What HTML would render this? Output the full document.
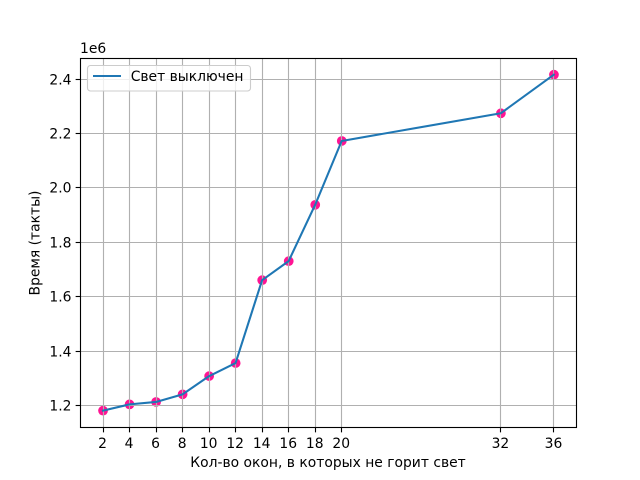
<!DOCTYPE html>
<html lang="ru">
<head>
<meta charset="utf-8">
<title>Время (такты)</title>
<style>
html,body{margin:0;padding:0;background:#fff;}
svg{display:block;}
text{font-family:"DejaVu Sans","Liberation Sans",sans-serif;font-size:13.889px;fill:#000;}
</style>
</head>
<body>
<svg id="chart" xmlns="http://www.w3.org/2000/svg" width="640" height="480" viewBox="0 0 640 480">
  <rect x="0" y="0" width="640" height="480" fill="#ffffff"/>
  <rect x="80" y="57.6" width="496" height="369.6" fill="#ffffff"/>
  <g id="points" transform="translate(0.5,0.25)"></g>
  <g id="grid"></g>
  <path id="series" transform="translate(0.4,0.25)" fill="none" stroke="#1f77b4" stroke-width="2.083" stroke-linejoin="round" stroke-linecap="square"></path>
  <g id="ticks"></g>
  <rect x="80.5" y="58.5" width="496" height="369" fill="none" stroke="#000" stroke-width="1.111"/>
  <text x="80" y="53">1e6</text>
  <text x="328" y="467" text-anchor="middle">Кол-во окон, в которых не горит свет</text>
  <text transform="translate(39.5,243) rotate(-90)" text-anchor="middle">Время (такты)</text>
  <g>
    <rect x="87.5" y="65.5" width="163" height="25.5" rx="3" ry="3" fill="#ffffff" fill-opacity="0.8" stroke="#cccccc" stroke-width="1.111"/>
    <line x1="93" y1="76" x2="121" y2="76" stroke="#1f77b4" stroke-width="2.083"/>
    <text x="130.7" y="81">Свет выключен</text>
  </g>
</svg>
<script>
const categories = [2, 4, 6, 8, 10, 12, 14, 16, 18, 20, 32, 36];
const seriesValues = [1.18, 1.203, 1.212, 1.24, 1.307, 1.355, 1.66, 1.73, 1.937, 2.172, 2.274, 2.416];
const xTickLabels = [2, 4, 6, 8, 10, 12, 14, 16, 18, 20, 32, 36];
const yTickLabels = ['1.2', '1.4', '1.6', '1.8', '2.0', '2.2', '2.4'];

const NS = 'http://www.w3.org/2000/svg';
const plot = {left: 80, right: 576, top: 57.6, bottom: 427.2};
const xMin = Math.min(...categories), xMax = Math.max(...categories);
const yMin = Math.min(...seriesValues), yMax = Math.max(...seriesValues);
const xPad = (xMax - xMin) * 0.05, yPad = (yMax - yMin) * 0.05;

function xScale(v) {
  return plot.left + (v - (xMin - xPad)) / ((xMax + xPad) - (xMin - xPad)) * (plot.right - plot.left);
}
function yScale(v) {
  return plot.bottom - (v - (yMin - yPad)) / ((yMax + yPad) - (yMin - yPad)) * (plot.bottom - plot.top);
}
function snap(p) {
  return Math.round(p) + 0.5;
}
function make(tag, attrs, parent) {
  const el = document.createElementNS(NS, tag);
  for (const k in attrs) el.setAttribute(k, attrs[k]);
  parent.appendChild(el);
  return el;
}

const gridG = document.getElementById('grid');
const ticksG = document.getElementById('ticks');
const pointsG = document.getElementById('points');
const frameTop = 58.5, frameBottom = 427.5, frameLeft = 80.5, frameRight = 576.5;

xTickLabels.forEach(function (t) {
  const x = snap(xScale(t));
  const g = make('line', {x1: x, x2: x, y1: frameTop, y2: frameBottom, stroke: '#b0b0b0', 'stroke-width': 1.111}, gridG);
  
  
  const m = make('line', {x1: x, x2: x, y1: frameBottom, y2: frameBottom + 4.86, stroke: '#000', 'stroke-width': 1.111}, ticksG);
  
  
  const l = make('text', {x: xScale(t), y: 448, 'text-anchor': 'middle'}, ticksG);
  l.textContent = t;
  
  
});

yTickLabels.forEach(function (t) {
  const y = snap(yScale(parseFloat(t)));
  const g = make('line', {x1: frameLeft, x2: frameRight, y1: y, y2: y, stroke: '#b0b0b0', 'stroke-width': 1.111}, gridG);
  
  
  const m = make('line', {x1: frameLeft - 4.86, x2: frameLeft, y1: y, y2: y, stroke: '#000', 'stroke-width': 1.111}, ticksG);
  
  
  const l = make('text', {x: plot.left - 8.5, y: y + 5, 'text-anchor': 'end'}, ticksG);
  l.textContent = t;
  
  
});

categories.forEach(function (c, i) {
  const p = make('circle', {cx: xScale(c), cy: yScale(seriesValues[i]), r: 4.86, fill: '#ff1493'}, pointsG);
  
  
});

document.getElementById('series').setAttribute('d', categories.map(function (c, i) {
  return (i ? 'L' : 'M') + xScale(c).toFixed(2) + ' ' + yScale(seriesValues[i]).toFixed(2);
}).join(' '));
</script>
</body>
</html>
